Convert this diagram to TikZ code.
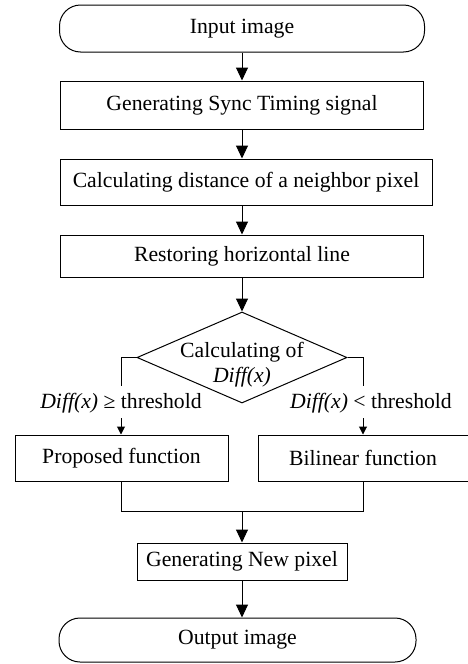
\documentclass[tikz,border=0pt]{standalone}
\usepackage{fontspec}
\setmainfont{Liberation Serif}
\usetikzlibrary{shapes.geometric,arrows.meta}
\begin{document}
\begin{tikzpicture}[x=1pt,y=-1pt,line width=1pt,
  font=\fontsize{21.7}{25}\selectfont,
  box/.style={draw,rectangle,inner sep=0pt},
  term/.style={box,rounded corners=21pt},
  arr/.style={-{Triangle[length=13pt,width=12pt]}},
  sarr/.style={-{Triangle[length=8pt,width=8pt]}},
  lab/.style={inner sep=1pt}]
\clip (0,0) rectangle (468,664);
\node[term,minimum width=365pt,minimum height=47pt] (in) at (242,28.5) {Input image};
\node[box,minimum width=363pt,minimum height=48pt] (b1) at (242,105) {Generating Sync Timing signal};
\node[box,minimum width=372pt,minimum height=46pt] (b2) at (246,182) {Calculating distance of a neighbor pixel};
\node[box,minimum width=363pt,minimum height=42pt] (b3) at (242,256) {Restoring horizontal line};
\node[draw,diamond,minimum width=210pt,minimum height=91pt,inner sep=0pt] (dia) at (242,357.5) {};
\node[align=center,inner sep=0pt] (dtext) at (242,365) {Calculating of\\\textit{Diff(x)}};
\draw[arr] (in.south) -- (b1.north);
\draw[arr] (b1.south) -- (b1.south |- b2.north);
\draw[arr] (b2.south -| b1.south) -- (b3.north);
\draw[arr] (b3.south) -- (dia.north);
\node[lab] (l1) at (121,403) {\textit{Diff(x)} ≥ threshold};
\node[lab] (l2) at (371,403) {\textit{Diff(x)} < threshold};
\coordinate (lc) at (121,386);
\coordinate (rc) at (363,386);
\draw (dia.west) -| (lc);
\draw (dia.east) -| (rc);
\coordinate (la) at (121,418);
\coordinate (ra) at (363,418);
\node[box,minimum width=213pt,minimum height=46pt] (prop) at (121.5,458) {Proposed function};
\node[box,minimum width=210pt,minimum height=46pt] (bil) at (363,458) {Bilinear function};
\draw[sarr] (la) -- (la |- prop.north);
\draw[sarr] (ra) -- (ra |- bil.north);
\coordinate (m) at (242,511);
\draw (prop.south) |- (m);
\draw (bil.south) |- (m);
\node[box,minimum width=210pt,minimum height=37pt] (gen) at (242,561.5) {Generating New pixel};
\draw[arr] (m) -- (gen.north);
\node[term,minimum width=357pt,minimum height=44pt] (out) at (237.5,640) {Output image};
\draw[arr] (gen.south) -- (gen.south |- out.north);
\end{tikzpicture}
\end{document}
